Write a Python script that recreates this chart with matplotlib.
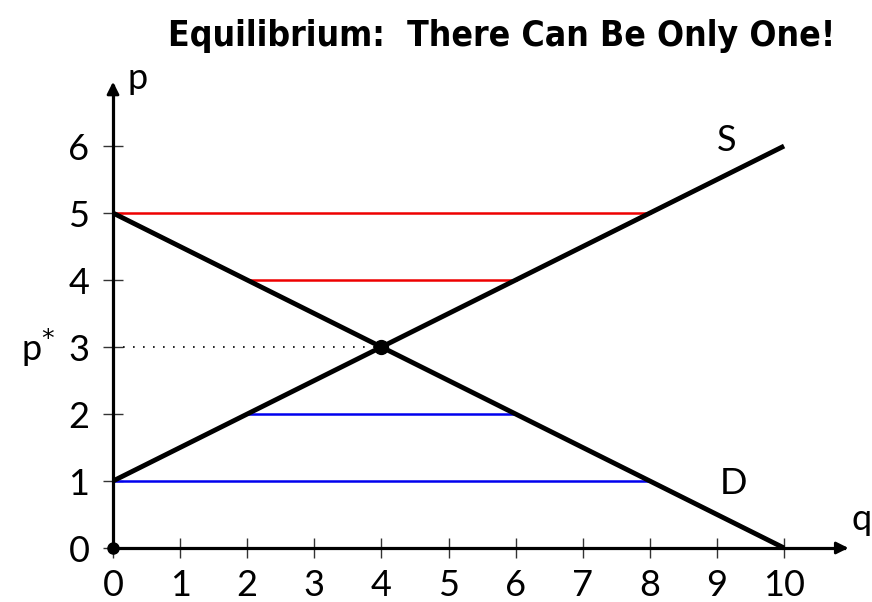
import matplotlib.pyplot as plt
import numpy as np

# supply / demand endpoints (q, p)
supply_q = [0, 10]
supply_p = [1, 6]
demand_q = [0, 10]
demand_p = [5, 0]

# surplus (red) and shortage (blue) price levels with their q extents
red_p = [5, 4]
red_q0 = [0, 2]
red_q1 = [8, 6]
blue_p = [2, 1]
blue_q0 = [2, 0]
blue_q1 = [6, 8]

eq_q, eq_p = 4, 3
xticks = list(range(0, 11))
yticks = list(range(0, 7))

plt.rcParams['font.family'] = ['Lato', 'DejaVu Sans']

fig = plt.figure(figsize=(8.72, 6.02), dpi=100)
ax = fig.add_axes([0, 0, 1, 1])
ax.set_xlim(-1.684, 11.31)
ax.set_ylim(-0.806, 8.18)

for s in ['top', 'right']:
    ax.spines[s].set_visible(False)
ax.spines['left'].set_position(('data', 0))
ax.spines['bottom'].set_position(('data', 0))
ax.spines['left'].set_bounds(0, 6.9)
ax.spines['bottom'].set_bounds(0, 10.9)
for s in ['left', 'bottom']:
    ax.spines[s].set_linewidth(2.3)
ax.set_xticks(xticks)
ax.set_yticks(yticks)
ax.tick_params(direction='inout', length=14, width=1, color='#333333',
               labelsize=26, labelcolor='black')
ax.tick_params(axis='y', pad=10)
ax.tick_params(axis='x', pad=8)

# arrow heads
ax.annotate('', xy=(11.0, 0), xytext=(10.8, 0),
            arrowprops=dict(arrowstyle='-|>', color='black', lw=2, mutation_scale=18))
ax.annotate('', xy=(0, 7.0), xytext=(0, 6.8),
            arrowprops=dict(arrowstyle='-|>', color='black', lw=2, mutation_scale=18))

for p, a, b in zip(red_p, red_q0, red_q1):
    ax.plot([a, b], [p, p], color='#ee0000', lw=1.8, zorder=2)
for p, a, b in zip(blue_p, blue_q0, blue_q1):
    ax.plot([a, b], [p, p], color='#0000ee', lw=1.8, zorder=2)

ax.plot([0, eq_q], [eq_p, eq_p], color='black', lw=1.2, ls=(0, (1, 5)), zorder=2)

ax.plot(supply_q, supply_p, color='black', lw=3.5, solid_capstyle='butt', zorder=3)
ax.plot(demand_q, demand_p, color='black', lw=3.5, solid_capstyle='butt', zorder=3)
ax.plot([eq_q], [eq_p], 'o', color='black', ms=10, zorder=4)
ax.plot([0], [0], 'o', color='black', ms=8, zorder=4, clip_on=False)

ax.text(9.15, 6.09, 'S', fontsize=26, ha='center', va='center')
ax.text(9.24, 0.96, 'D', fontsize=26, ha='center', va='center')
ax.text(11.16, 0.42, 'q', fontsize=26, ha='center', va='center')
ax.text(0.37, 7.01, 'p', fontsize=26, ha='center', va='center')
ax.text(-1.12, 2.99, 'p$^{*}$', fontsize=26, ha='center', va='center')

fig.text(0.575, 0.94, 'Equilibrium:  There Can Be Only One!',
         family=['DejaVu Sans'], fontstretch='condensed', fontweight='bold',
         fontsize=25.5, ha='center', va='center')

fig.savefig('out.png', dpi=100)
